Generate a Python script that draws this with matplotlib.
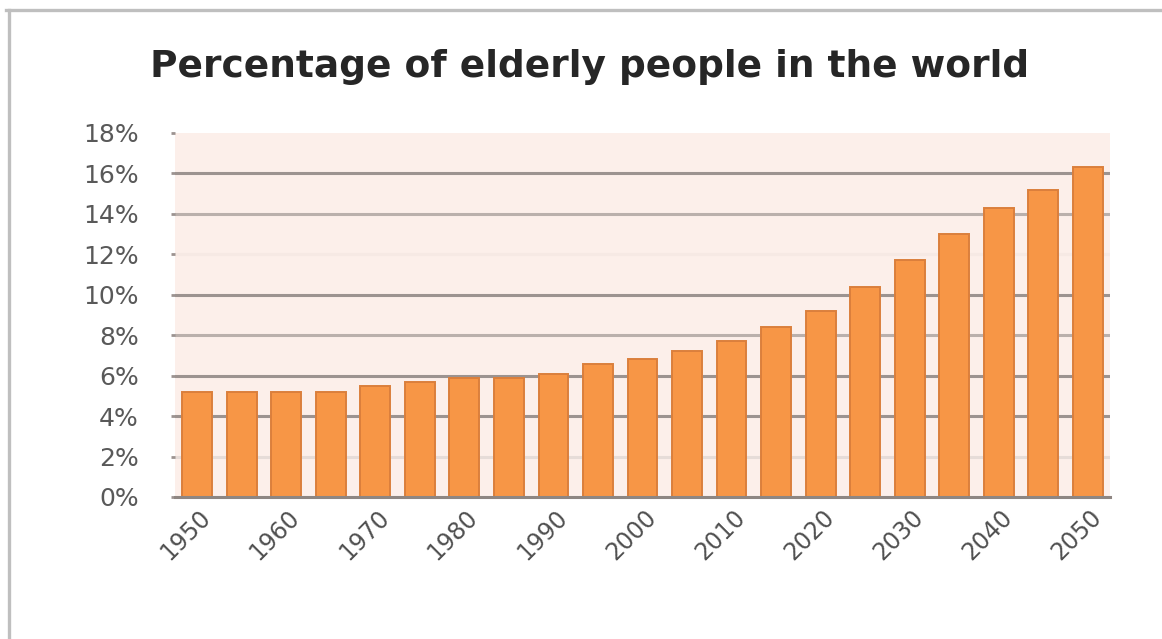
import matplotlib.pyplot as plt
import numpy as np
from matplotlib.lines import Line2D
from matplotlib.ticker import FuncFormatter
from matplotlib.transforms import ScaledTranslation

# Data (share of elderly people, %)
years = [1950, 1955, 1960, 1965, 1970, 1975, 1980, 1985, 1990, 1995, 2000,
         2005, 2010, 2015, 2020, 2025, 2030, 2035, 2040, 2045, 2050]
share = [5.2, 5.2, 5.2, 5.2, 5.5, 5.7, 5.9, 5.9, 6.1, 6.6, 6.8,
         7.2, 7.7, 8.4, 9.2, 10.4, 11.7, 13.0, 14.3, 15.2, 16.3]
y_ticks = [0, 2, 4, 6, 8, 10, 12, 14, 16, 18]

W, H = 1162, 639
fig = plt.figure(figsize=(W / 100, H / 100), dpi=100)
fig.patch.set_facecolor('white')

# plot area in pixels: x 175..1110, y 133..497
ax = fig.add_axes([175 / W, 1 - 497 / H, (1110 - 175) / W, (497 - 133) / H])
ax.set_facecolor('#FCEFEA')

x = np.arange(len(years))
ax.bar(x, share, width=0.67, color='#F79646', edgecolor='#DB7F3C',
       linewidth=1.4, zorder=3)

ax.set_xlim(-0.5, len(years) - 0.5)
ax.set_ylim(0, 18)

# gridlines (the reference shows them unevenly, 2% faint, 12% hardly visible)
grid_colors = {2: '#E6DCD8', 4: '#9C9390', 6: '#9C9390', 8: '#BAB0AC',
               10: '#9C9390', 12: '#F6E9E4', 14: '#BAB0AC', 16: '#9C9390'}
for lvl, c in grid_colors.items():
    ax.axhline(lvl, color=c, linewidth=2.2, zorder=1)

for s in ['top', 'right', 'left']:
    ax.spines[s].set_visible(False)
ax.spines['bottom'].set_color('#8E8682')
ax.spines['bottom'].set_linewidth(2.2)
ax.spines['bottom'].set_zorder(4)

ax.set_yticks(y_ticks)
ax.yaxis.set_major_formatter(FuncFormatter(lambda v, p: f'{int(v)}%'))
ax.tick_params(axis='y', length=3, width=2, color='#9C9390', pad=23,
               labelsize=18, labelcolor='#595959')

ax.set_xticks(x[::2])
ax.set_xticklabels([str(y) for y in years[::2]])
ax.tick_params(axis='x', length=0, pad=12, labelsize=17, labelcolor='#505050')
shift = ScaledTranslation(10 / 100, 0, fig.dpi_scale_trans)
for lab in ax.get_xticklabels():
    lab.set_rotation(45)
    lab.set_rotation_mode('anchor')
    lab.set_ha('right')
    lab.set_va('center')
    lab.set_transform(lab.get_transform() + shift)

fig.text(590 / W, 1 - 77 / H, 'Percentage of elderly people in the world',
         ha='center', va='baseline', fontsize=27, fontweight='bold',
         color='#262626')

# outer chart border (only top and left edges are in frame)
fig.add_artist(Line2D([6 / W, 1.0], [1 - 10 / H, 1 - 10 / H],
                      transform=fig.transFigure, color='#BFBFBF', linewidth=2.4))
fig.add_artist(Line2D([9 / W, 9 / W], [0.0, 1 - 10 / H],
                      transform=fig.transFigure, color='#BFBFBF', linewidth=2.4))

fig.savefig('out.png', dpi=100)
